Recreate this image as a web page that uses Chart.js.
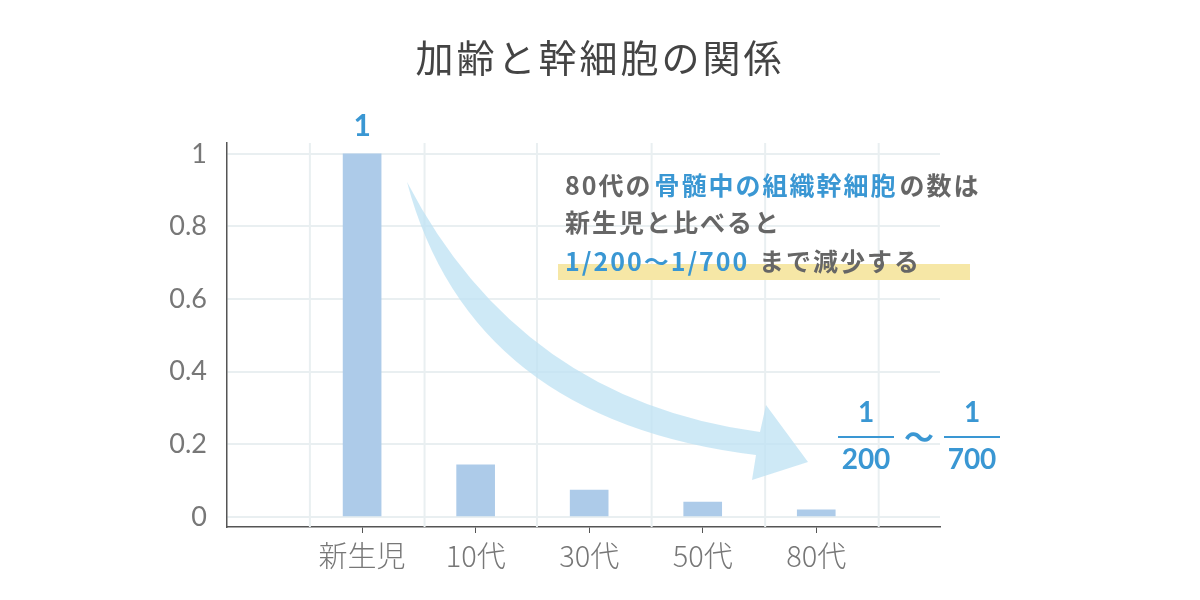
<!DOCTYPE html>
<html><head><meta charset="utf-8">
<script src="https://cdn.jsdelivr.net/npm/chart.js@4/dist/chart.umd.min.js"></script>
<style>html,body{margin:0;background:#fff}#w{width:1200px;height:600px}</style>
</head><body><div id="w"><canvas id="c"></canvas></div>
<script>
const categories = ["新生児","10代","30代","50代","80代"];
const values = [1, 0.143, 0.074, 0.041, 0.019];
const yTicks = [0,0.2,0.4,0.6,0.8,1];
const F = '"Noto Sans CJK JP","Noto Sans",sans-serif';
const gridX = [0.54,1.55,2.54,3.55,4.55,5.55];

const deco = {
  id:'deco',
  beforeDatasetsDraw(ch){
    const c=ch.ctx,x=ch.scales.x,a=ch.chartArea;
    c.save();c.strokeStyle='#e9eff1';c.lineWidth=2;
    gridX.forEach(v=>{const p=x.getPixelForValue(v);c.beginPath();c.moveTo(p,a.top);c.lineTo(p,a.bottom);c.stroke();});
    c.restore();
  },
  afterDraw(ch){
    const c=ch.ctx,x=ch.scales.x,y=ch.scales.y;
    c.save();
    c.fillStyle='#444';c.font='38px '+F;c.textAlign='center';c.textBaseline='middle';
    c.letterSpacing='3px';
    c.fillText('加齢と幹細胞の関係',600,58);
    c.letterSpacing='0px';
    c.fillStyle='#3a97d3';c.font='bold 30px "Lato",sans-serif';
    c.fillText(String(values[0]),x.getPixelForValue(1),y.getPixelForValue(values[0])-28);
    c.fillStyle='rgba(190,225,243,0.75)';
    c.beginPath();
    c.moveTo(407,182);
    c.quadraticCurveTo(520,400,760,432);
    c.lineTo(766,405);c.lineTo(808,462);c.lineTo(752,480);c.lineTo(756,455);
    c.quadraticCurveTo(470,420,407,182);
    c.fill();
    c.fillStyle='#f6e7a6';c.fillRect(558,264,412,16);
    c.textAlign='left';c.textBaseline='middle';
    c.letterSpacing='2px';
    const seg=(parts,x0,yy)=>{let xx=x0;parts.forEach(([t,col])=>{c.fillStyle=col;c.fillText(t,xx,yy);xx+=c.measureText(t).width+2;});};
    c.font='bold 25px '+F;
    const g='#666',b='#3a97d3';
    seg([['80代の',g],['骨髄中の組織幹細胞',b],['の数は',g]],565,185);
    seg([['新生児と比べると',g]],565,222);
    seg([['1/200〜1/700',b],[' まで減少する',g]],565,261);
    c.letterSpacing='0px';
    c.fillStyle=b;c.textAlign='center';c.font='bold 28px "Lato",sans-serif';
    c.fillText('1',866,413);c.fillText('200',866,460);
    c.fillText('1',972,413);c.fillText('700',972,460);
    c.fillRect(838,436,56,2);c.fillRect(944,436,56,2);
    c.font='bold 30px '+F;c.fillText('〜',919,437);
    c.restore();
  }
};

new Chart(document.getElementById('c'),{
  type:'bar',
  data:{datasets:[{data:values.map((v,i)=>({x:i+1,y:v})),backgroundColor:'#adcbe9',barThickness:38}]},
  options:{
    responsive:true,maintainAspectRatio:false,animation:false,
    layout:{padding:{top:143,right:260,left:0,bottom:0}},
    plugins:{legend:{display:false},tooltip:{enabled:false}},
    scales:{
      x:{type:'linear',min:-0.19,max:6.09,offset:false,
        afterBuildTicks(s){s.ticks=categories.map((_,i)=>({value:i+1}));},
        afterFit(s){s.height=73;},
        ticks:{callback:(v)=>categories[v-1],color:'#777',font:{family:F,size:29,weight:'300'},padding:6,autoSkip:false,maxRotation:0},
        grid:{offset:false,drawOnChartArea:false,drawTicks:true,tickLength:6,color:'#555'},
        border:{color:'#555',width:1.5}},
      y:{min:-0.028,max:1.03,
        afterBuildTicks(s){s.ticks=yTicks.map(v=>({value:v}));},
        afterFit(s){s.width=227;},
        ticks:{callback:v=>String(v),color:'#777',font:{family:'"Lato",sans-serif',size:27},padding:20},
        grid:{color:'#e9eff1',lineWidth:2,drawTicks:false},
        border:{color:'#555',width:1.5}}
    }
  },
  plugins:[deco]
});
</script></body></html>
